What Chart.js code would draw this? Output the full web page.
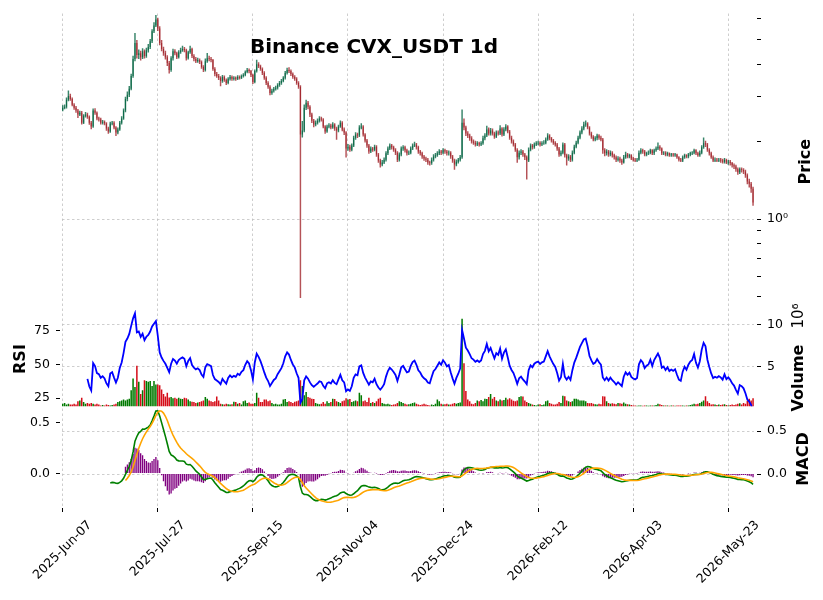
<!DOCTYPE html>
<html><head><meta charset="utf-8">
<script src="https://cdn.jsdelivr.net/npm/chart.js@4.4.1/dist/chart.umd.min.js"></script>
<style>html,body{margin:0;padding:0;background:#fff;}canvas{display:block;}</style>
</head><body>
<canvas id="c" width="823" height="600"></canvas>
<script>
const chartTitle = 'Binance CVX_USDT 1d';
const tickIdx = [0,50,100,150,200,250,300,350];
const tickLabels = ['2025-Jun-07','2025-Jul-27','2025-Sep-15','2025-Nov-04','2025-Dec-24','2026-Feb-12','2026-Apr-03','2026-May-23'];

const opens = [2.66,2.71,2.73,2.91,3.01,2.93,2.78,2.71,2.64,2.55,
2.59,2.37,2.52,2.55,2.50,2.37,2.29,2.64,2.59,2.46,
2.44,2.37,2.39,2.35,2.25,2.19,2.35,2.37,2.27,2.17,
2.23,2.37,2.46,2.64,2.93,3.04,3.21,3.60,4.19,4.83,
4.34,4.41,4.26,4.49,4.30,4.53,4.66,4.91,5.37,5.66,
5.97,5.51,4.83,4.58,4.41,4.26,4.04,3.80,4.22,4.49,
4.41,4.26,4.45,4.53,4.58,4.53,4.22,4.45,4.58,4.30,
4.19,4.11,4.15,4.08,3.90,3.80,4.11,4.22,4.19,4.15,
3.83,3.66,3.60,3.54,3.44,3.57,3.47,3.38,3.51,3.57,
3.51,3.54,3.51,3.57,3.54,3.60,3.63,3.73,3.80,3.76,
3.63,3.41,3.76,4.00,3.93,3.83,3.70,3.54,3.38,3.27,
3.09,3.15,3.21,3.24,3.32,3.38,3.44,3.54,3.70,3.80,
3.76,3.66,3.57,3.51,3.38,3.27,2.13,2.21,2.71,2.83,
2.73,2.55,2.41,2.33,2.37,2.41,2.46,2.44,2.29,2.19,
2.29,2.31,2.27,2.33,2.25,2.21,2.29,2.37,2.23,2.17,
1.88,1.91,1.86,1.93,2.07,2.13,2.11,2.27,2.29,2.13,
2.02,1.93,1.83,1.88,1.86,1.91,1.78,1.69,1.63,1.66,
1.70,1.80,1.88,1.93,1.90,1.86,1.81,1.70,1.78,1.88,
1.90,1.85,1.80,1.81,1.88,1.93,1.95,1.90,1.83,1.80,
1.75,1.72,1.70,1.66,1.65,1.70,1.75,1.77,1.80,1.83,
1.81,1.85,1.83,1.80,1.81,1.75,1.69,1.63,1.67,1.70,
1.74,2.37,2.27,2.15,2.11,2.06,2.00,1.98,1.95,1.97,
1.95,1.97,2.06,2.11,2.23,2.15,2.21,2.15,2.09,2.17,
2.15,2.25,2.13,2.23,2.29,2.19,2.07,2.00,1.95,1.86,
1.74,1.81,1.83,1.78,1.74,1.69,1.86,1.93,1.90,1.95,
1.97,1.98,1.95,1.97,1.98,2.04,2.11,2.06,2.02,1.98,
1.95,1.88,1.78,1.81,1.95,1.77,1.72,1.75,1.70,1.81,
1.91,1.98,2.07,2.17,2.25,2.33,2.35,2.27,2.15,2.09,
2.04,2.06,2.11,2.07,2.04,1.85,1.80,1.83,1.78,1.81,
1.77,1.74,1.70,1.72,1.69,1.66,1.74,1.78,1.75,1.77,
1.72,1.70,1.69,1.70,1.81,1.85,1.83,1.78,1.80,1.81,
1.85,1.80,1.85,1.88,1.91,1.88,1.80,1.81,1.78,1.80,
1.77,1.78,1.77,1.78,1.74,1.70,1.69,1.74,1.77,1.75,
1.78,1.80,1.81,1.85,1.80,1.77,1.81,1.90,1.97,1.95,
1.86,1.80,1.74,1.69,1.70,1.69,1.70,1.69,1.67,1.70,
1.66,1.67,1.65,1.62,1.60,1.56,1.52,1.56,1.55,1.53,
1.48,1.40,1.37,1.31];

const highs = [2.76,2.78,2.96,3.15,3.06,2.96,2.81,2.74,2.67,2.63,
2.62,2.55,2.60,2.58,2.52,2.40,2.68,2.69,2.61,2.49,
2.47,2.42,2.41,2.37,2.28,2.38,2.40,2.39,2.29,2.26,
2.40,2.50,2.68,2.98,3.12,3.28,3.66,4.30,5.27,4.95,
4.55,4.50,4.60,4.55,4.62,4.78,5.00,5.45,5.80,6.19,
6.05,5.60,4.95,4.66,4.50,4.32,4.10,4.28,4.58,4.56,
4.46,4.52,4.62,4.70,4.65,4.58,4.50,4.70,4.62,4.36,
4.25,4.22,4.20,4.12,3.95,4.20,4.41,4.30,4.25,4.18,
3.88,3.72,3.65,3.58,3.62,3.60,3.51,3.55,3.62,3.60,
3.58,3.57,3.61,3.60,3.64,3.68,3.77,3.85,3.84,3.79,
3.66,3.80,4.15,4.06,3.97,3.87,3.74,3.58,3.42,3.30,
3.20,3.25,3.29,3.36,3.43,3.49,3.58,3.75,3.86,3.88,
3.80,3.70,3.61,3.55,3.42,3.30,2.40,2.78,2.90,2.87,
2.76,2.58,2.44,2.41,2.45,2.50,2.49,2.46,2.31,2.32,
2.35,2.34,2.37,2.35,2.28,2.32,2.41,2.39,2.26,2.19,
1.95,1.94,1.96,2.10,2.17,2.16,2.31,2.35,2.31,2.15,
2.04,1.95,1.91,1.90,1.94,1.93,1.80,1.71,1.69,1.73,
1.83,1.91,1.96,1.95,1.92,1.88,1.83,1.81,1.91,1.93,
1.92,1.87,1.84,1.91,1.96,1.99,1.97,1.92,1.85,1.82,
1.77,1.74,1.72,1.68,1.73,1.78,1.80,1.83,1.86,1.85,
1.88,1.87,1.85,1.84,1.83,1.77,1.71,1.70,1.72,1.77,
2.66,2.45,2.30,2.19,2.14,2.09,2.03,2.01,2.00,1.99,
2.00,2.10,2.15,2.30,2.26,2.25,2.24,2.18,2.20,2.20,
2.31,2.27,2.27,2.33,2.31,2.21,2.10,2.03,1.97,1.88,
1.84,1.86,1.85,1.80,1.76,1.89,1.96,1.95,1.98,2.00,
2.01,2.00,2.00,2.02,2.07,2.15,2.13,2.08,2.04,2.00,
1.97,1.90,1.84,1.98,1.97,1.79,1.78,1.77,1.84,1.94,
2.01,2.10,2.20,2.29,2.38,2.41,2.37,2.29,2.18,2.11,
2.09,2.14,2.13,2.10,2.06,1.88,1.86,1.85,1.84,1.83,
1.79,1.76,1.75,1.74,1.71,1.77,1.82,1.80,1.79,1.78,
1.74,1.72,1.72,1.84,1.88,1.87,1.85,1.82,1.84,1.87,
1.86,1.87,1.91,1.98,1.93,1.89,1.83,1.83,1.82,1.81,
1.80,1.80,1.80,1.79,1.75,1.72,1.76,1.79,1.78,1.80,
1.82,1.83,1.87,1.86,1.82,1.84,1.93,2.07,2.01,1.97,
1.88,1.82,1.76,1.73,1.72,1.72,1.72,1.71,1.72,1.71,
1.69,1.69,1.66,1.64,1.62,1.58,1.58,1.58,1.57,1.55,
1.50,1.43,1.39,1.33];

const lows = [2.63,2.68,2.70,2.88,2.89,2.75,2.67,2.60,2.48,2.52,
2.34,2.35,2.49,2.46,2.33,2.24,2.27,2.55,2.43,2.40,
2.34,2.34,2.32,2.21,2.15,2.17,2.32,2.24,2.11,2.14,
2.21,2.34,2.44,2.61,2.88,2.99,3.18,3.55,4.12,4.22,
4.20,4.15,4.20,4.22,4.25,4.45,4.60,4.85,5.30,5.60,
5.40,4.75,4.50,4.33,4.18,3.95,3.69,3.75,4.15,4.35,
4.20,4.22,4.40,4.48,4.46,4.15,4.18,4.40,4.24,4.12,
4.05,4.06,4.02,3.85,3.74,3.76,4.06,4.12,4.08,3.78,
3.60,3.55,3.48,3.29,3.40,3.43,3.33,3.35,3.47,3.46,
3.47,3.46,3.48,3.50,3.51,3.56,3.60,3.70,3.70,3.58,
3.36,3.38,3.72,3.88,3.78,3.64,3.49,3.33,3.22,3.04,
3.05,3.11,3.17,3.20,3.28,3.34,3.41,3.50,3.66,3.71,
3.61,3.52,3.46,3.34,3.22,0.495,2.08,2.18,2.66,2.68,
2.50,2.37,2.28,2.30,2.34,2.38,2.40,2.26,2.15,2.17,
2.26,2.24,2.25,2.21,2.04,2.18,2.27,2.20,2.13,1.74,
1.85,1.83,1.84,1.91,2.04,2.07,2.09,2.24,2.10,1.99,
1.90,1.80,1.81,1.83,1.84,1.75,1.66,1.59,1.61,1.64,
1.68,1.78,1.86,1.87,1.83,1.78,1.67,1.68,1.76,1.85,
1.82,1.77,1.78,1.79,1.86,1.91,1.87,1.80,1.77,1.72,
1.69,1.67,1.63,1.62,1.63,1.68,1.73,1.75,1.78,1.78,
1.79,1.80,1.77,1.77,1.72,1.66,1.56,1.61,1.65,1.68,
1.72,2.22,2.11,2.07,2.02,1.97,1.95,1.92,1.93,1.92,
1.93,1.95,2.03,2.09,2.12,2.12,2.12,2.06,2.07,2.12,
2.13,2.10,2.11,2.20,2.16,2.04,1.97,1.92,1.83,1.66,
1.71,1.78,1.75,1.70,1.43,1.67,1.84,1.87,1.88,1.93,
1.94,1.92,1.93,1.95,1.96,2.02,2.03,1.99,1.95,1.92,
1.85,1.75,1.76,1.79,1.74,1.62,1.69,1.67,1.68,1.79,
1.89,1.96,2.05,2.14,2.22,2.29,2.24,2.12,2.06,2.01,
2.01,2.03,2.04,2.01,1.80,1.76,1.77,1.75,1.76,1.74,
1.71,1.67,1.68,1.66,1.63,1.65,1.72,1.73,1.73,1.70,
1.68,1.67,1.67,1.69,1.79,1.80,1.76,1.76,1.78,1.79,
1.78,1.78,1.83,1.86,1.85,1.78,1.78,1.76,1.76,1.75,
1.75,1.75,1.75,1.72,1.68,1.67,1.67,1.72,1.73,1.73,
1.76,1.78,1.79,1.78,1.75,1.75,1.79,1.88,1.91,1.83,
1.77,1.72,1.67,1.67,1.67,1.67,1.66,1.65,1.65,1.64,
1.63,1.62,1.59,1.57,1.53,1.49,1.50,1.52,1.50,1.45,
1.37,1.33,1.27,1.13];

const closes = [2.71,2.73,2.91,3.01,2.93,2.78,2.71,2.64,2.55,2.59,
2.37,2.52,2.55,2.50,2.37,2.29,2.64,2.59,2.46,2.44,
2.37,2.39,2.35,2.25,2.19,2.35,2.37,2.27,2.17,2.23,
2.37,2.46,2.64,2.93,3.04,3.21,3.60,4.19,4.83,4.34,
4.41,4.26,4.49,4.30,4.53,4.66,4.91,5.37,5.66,5.97,
5.51,4.83,4.58,4.41,4.26,4.04,3.80,4.22,4.49,4.41,
4.26,4.45,4.53,4.58,4.53,4.22,4.45,4.58,4.30,4.19,
4.11,4.15,4.08,3.90,3.80,4.11,4.22,4.19,4.15,3.83,
3.66,3.60,3.54,3.44,3.57,3.47,3.38,3.51,3.57,3.51,
3.54,3.51,3.57,3.54,3.60,3.63,3.73,3.80,3.76,3.63,
3.41,3.76,4.00,3.93,3.83,3.70,3.54,3.38,3.27,3.09,
3.15,3.21,3.24,3.32,3.38,3.44,3.54,3.70,3.80,3.76,
3.66,3.57,3.51,3.38,3.27,2.13,2.21,2.71,2.83,2.73,
2.55,2.41,2.33,2.37,2.41,2.46,2.44,2.29,2.19,2.29,
2.31,2.27,2.33,2.25,2.21,2.29,2.37,2.23,2.17,1.88,
1.91,1.86,1.93,2.07,2.13,2.11,2.27,2.29,2.13,2.02,
1.93,1.83,1.88,1.86,1.91,1.78,1.69,1.63,1.66,1.70,
1.80,1.88,1.93,1.90,1.86,1.81,1.70,1.78,1.88,1.90,
1.85,1.80,1.81,1.88,1.93,1.95,1.90,1.83,1.80,1.75,
1.72,1.70,1.66,1.65,1.70,1.75,1.77,1.80,1.83,1.81,
1.85,1.83,1.80,1.81,1.75,1.69,1.63,1.67,1.70,1.74,
2.37,2.27,2.15,2.11,2.06,2.00,1.98,1.95,1.97,1.95,
1.97,2.06,2.11,2.23,2.15,2.21,2.15,2.09,2.17,2.15,
2.25,2.13,2.23,2.29,2.19,2.07,2.00,1.95,1.86,1.74,
1.81,1.83,1.78,1.74,1.69,1.86,1.93,1.90,1.95,1.97,
1.98,1.95,1.97,1.98,2.04,2.11,2.06,2.02,1.98,1.95,
1.88,1.78,1.81,1.95,1.77,1.72,1.75,1.70,1.81,1.91,
1.98,2.07,2.17,2.25,2.33,2.35,2.27,2.15,2.09,2.04,
2.06,2.11,2.07,2.04,1.85,1.80,1.83,1.78,1.81,1.77,
1.74,1.70,1.72,1.69,1.66,1.74,1.78,1.75,1.77,1.72,
1.70,1.69,1.70,1.81,1.85,1.83,1.78,1.80,1.81,1.85,
1.80,1.85,1.88,1.91,1.88,1.80,1.81,1.78,1.80,1.77,
1.78,1.77,1.78,1.74,1.70,1.69,1.74,1.77,1.75,1.78,
1.80,1.81,1.85,1.80,1.77,1.81,1.90,1.97,1.95,1.86,
1.80,1.74,1.69,1.70,1.69,1.70,1.69,1.67,1.70,1.66,
1.67,1.65,1.62,1.60,1.56,1.52,1.56,1.55,1.53,1.48,
1.40,1.37,1.31,1.16];

// volume in millions
const volumes = [0.6,0.7,0.5,0.6,0.5,0.5,0.6,0.5,0.9,1.0,
1.3,0.8,0.6,0.7,0.6,0.7,0.6,0.5,0.6,0.5,
0.4,0.45,0.4,0.5,0.45,0.4,0.45,0.5,0.6,0.8,
0.9,1.0,1.1,1.0,1.1,1.2,2.2,3.6,2.6,5.1,
3.2,1.75,2.2,3.4,3.3,3.2,3.3,2.7,3.3,2.9,
2.9,2.8,2.3,1.75,1.45,1.9,1.35,1.4,1.25,1.3,
1.2,1.3,1.2,1.15,1.3,1.25,1.1,0.9,0.85,0.8,
0.7,0.75,0.8,0.9,1.0,1.4,1.2,1.0,0.9,0.8,
0.9,1.45,1.0,0.6,0.55,0.5,0.6,0.55,0.5,0.55,
0.85,0.8,0.6,0.7,0.5,0.9,1.0,0.7,0.75,0.6,
0.6,0.7,1.9,1.3,0.8,0.8,1.1,1.1,0.9,1.0,
0.7,0.55,0.6,0.5,0.5,0.6,1.1,1.15,0.8,0.9,
0.8,0.7,0.85,0.9,1.0,3.4,2.7,1.6,2.0,1.4,
1.3,1.2,1.15,0.7,0.6,0.55,0.6,0.8,0.6,0.9,
0.7,0.8,1.2,1.15,0.9,0.8,0.7,0.9,1.0,1.25,
1.1,1.15,0.8,0.9,1.0,0.9,1.9,1.6,0.9,1.0,
0.8,1.3,0.7,0.8,0.7,0.9,1.2,1.3,0.7,0.6,
0.55,0.6,0.5,0.45,0.5,0.55,0.7,0.9,0.8,0.7,
0.6,0.5,0.55,0.6,0.7,0.75,0.6,0.5,0.45,0.5,
0.6,0.5,0.45,0.4,0.5,0.45,0.6,1.1,0.9,0.6,
0.5,0.55,0.6,0.5,0.5,0.6,0.7,0.6,0.7,0.75,
10.7,5.4,2.1,1.1,0.9,0.6,0.55,0.7,1.0,0.9,
1.05,0.9,1.2,1.15,1.4,1.75,1.2,1.4,1.0,0.9,
1.1,1.0,1.05,1.3,1.1,1.25,1.1,0.95,0.9,1.0,
1.4,1.5,1.45,1.0,0.8,0.7,0.6,0.5,0.45,0.4,
0.5,0.55,0.45,0.5,0.9,1.0,0.7,0.6,0.5,0.5,
0.6,0.8,0.7,1.55,1.5,1.0,0.9,0.8,0.9,1.2,
1.2,1.1,1.0,1.0,1.0,0.9,0.7,0.65,0.7,0.6,
0.55,0.5,0.6,0.55,1.5,1.45,0.9,0.7,0.6,0.65,
0.6,0.55,0.7,0.65,0.6,0.75,0.6,0.55,0.5,0.45,
0.4,0.38,0.36,0.4,0.38,0.36,0.4,0.38,0.35,0.4,
0.38,0.4,0.45,0.6,0.55,0.45,0.4,0.38,0.4,0.36,
0.38,0.4,0.36,0.38,0.4,0.38,0.4,0.36,0.38,0.4,
0.45,0.5,0.6,0.55,0.6,0.7,0.85,1.0,1.5,0.9,
0.7,0.5,0.55,0.5,0.45,0.5,0.45,0.5,0.55,0.45,
0.4,0.45,0.5,0.45,0.5,0.6,0.65,0.5,0.7,0.6,
0.95,1.2,1.0,1.25];

const priceTicks = [0.5,0.6,0.7,0.8,0.9,1,2,3,4,5,6];
const volTicks = [5,10];
const rsiTicks = [25,50,75];
const macdTicks = [0,0.5];

// ---- indicators computed from the closes (RSI 14, MACD 12/26/9) ----
function ewm(src, alpha, minP) {
  const out = new Array(src.length).fill(null);
  let prev = null, n = 0;
  for (let i = 0; i < src.length; i++) {
    const v = src[i];
    if (v === null) continue;
    n++;
    prev = prev === null ? v : alpha * v + (1 - alpha) * prev;
    if (n >= minP) out[i] = prev;
  }
  return out;
}
const ups = closes.map((c, i) => i === 0 ? 0 : Math.max(c - closes[i - 1], 0));
const dns = closes.map((c, i) => i === 0 ? 0 : Math.max(closes[i - 1] - c, 0));
const eu = ewm(ups, 1 / 14, 14), ed = ewm(dns, 1 / 14, 14);
const rsi = eu.map((u, i) => u === null ? null : (ed[i] === 0 ? 100 : 100 * u / (u + ed[i])));
const emaFast = ewm(closes, 2 / 13, 12), emaSlow = ewm(closes, 2 / 27, 26);
const macd = closes.map((_, i) => (emaFast[i] === null || emaSlow[i] === null) ? null : emaFast[i] - emaSlow[i]);
const signal = ewm(macd, 2 / 10, 9);
const hist = macd.map((m, i) => (m === null || signal[i] === null) ? null : m - signal[i]);

const pts = arr => arr.map((v, i) => ({x: i, y: v})).filter(p => p.y !== null);
const isUp = closes.map((c, i) => c >= opens[i]);
const candleUp = 'rgba(0,99,64,0.78)', candleDn = 'rgba(160,33,40,0.78)';
const volUp = '#007a00', volDn = '#d50d18';

const GRID = '#c2c2c2';
const DASH = [2.5, 2.5];
const FONT = {family: 'DejaVu Sans', size: 12.5};
const setTicks = vals => s => { s.ticks = vals.map(v => ({value: v})); };

const rightAxis = (weight, min, max, ticksArr, cb, gridColor, type) => ({
  type: type || 'linear', position: 'right', stack: 'R', stackWeight: weight,
  min, max, beginAtZero: false,
  afterBuildTicks: setTicks(ticksArr),
  afterFit: s => { s.width = 69; },
  border: {display: false, dash: DASH},
  grid: {color: gridColor, lineWidth: 0.8, drawTicks: true, tickLength: 7, tickColor: '#000', tickWidth: 1, tickBorderDash: [0, 3, 4, 100]},
  ticks: {font: FONT, color: '#000', padding: 6, autoSkip: false, maxRotation: 0, callback: cb}
});
const leftAxis = (weight, min, max, ticksArr, cb) => ({
  type: 'linear', position: 'left', stack: 'L', stackWeight: weight,
  min, max, beginAtZero: false,
  afterBuildTicks: setTicks(ticksArr),
  afterFit: s => { s.width = 62; },
  border: {display: false},
  grid: {display: true, drawOnChartArea: false, drawTicks: true, tickLength: 6, tickColor: '#000', tickWidth: 1, tickBorderDash: [4, 100]},
  ticks: {font: FONT, color: '#000', padding: 6, autoSkip: false, maxRotation: 0, callback: cb}
});

const textPlugin = {
  id: 'mpfTexts',
  afterDraw(chart) {
    const ctx = chart.ctx, xs = chart.scales.x;
    ctx.save();
    ctx.fillStyle = '#000';
    ctx.font = 'bold 20px "DejaVu Sans"';
    ctx.textAlign = 'center'; ctx.textBaseline = 'alphabetic';
    ctx.fillText(chartTitle, 374, 53);
    ctx.font = '12.5px "DejaVu Sans"';
    tickIdx.forEach((v, k) => {
      const txt = tickLabels[k];
      const w = ctx.measureText(txt).width;
      const bh = (w + 14.5) * Math.SQRT1_2;
      const cx = xs.getPixelForValue(v);
      const cy = xs.top + 10 + bh / 2;
      ctx.save(); ctx.translate(cx, cy); ctx.rotate(-Math.PI / 4);
      ctx.textAlign = 'center'; ctx.textBaseline = 'middle';
      ctx.fillText(txt, 0, 0); ctx.restore();
    });
    const vText = (txt, font, x, y) => {
      ctx.save(); ctx.font = font; ctx.translate(x, y); ctx.rotate(-Math.PI / 2);
      ctx.textAlign = 'center'; ctx.textBaseline = 'alphabetic'; ctx.fillText(txt, 0, 0); ctx.restore();
    };
    const sP = chart.scales.yPrice, sR = chart.scales.yRsi;
    vText('Price', 'bold 16px "DejaVu Sans"', 810, (sP.top + sP.bottom) / 2);
    vText('Volume', 'bold 16px "DejaVu Sans"', 803, 378);
    vText('10\u2076', '15px "DejaVu Sans"', 803, 316);
    vText('MACD', 'bold 16px "DejaVu Sans"', 808, 459);
    vText('RSI', 'bold 16px "DejaVu Sans"', 25, (sR.top + sR.bottom) / 2 + 1);
    ctx.restore();
  }
};

new Chart(document.getElementById('c'), {
  type: 'line',
  data: {
    datasets: [
      {type: 'line', label: 'Signal', data: pts(signal), yAxisID: 'yMacdL', xAxisID: 'x',
       borderColor: '#ffa500', borderWidth: 1.6, pointRadius: 0, tension: 0, order: 0},
      {type: 'line', label: 'MACD', data: pts(macd), yAxisID: 'yMacdR', xAxisID: 'x',
       borderColor: '#008000', borderWidth: 1.6, pointRadius: 0, tension: 0, order: 1},
      {type: 'line', label: 'RSI', data: pts(rsi), yAxisID: 'yRsi', xAxisID: 'x',
       borderColor: '#0000ff', borderWidth: 1.8, pointRadius: 0, tension: 0, order: 0},
      {type: 'bar', label: 'Histogram', data: pts(hist), yAxisID: 'yMacdL', xAxisID: 'x',
       backgroundColor: '#800080', barPercentage: 0.7, categoryPercentage: 1, grouped: false, order: 3},
      {type: 'bar', label: 'Volume', data: pts(volumes), yAxisID: 'yVol', xAxisID: 'x',
       backgroundColor: isUp.map(u => u ? volUp : volDn), barPercentage: 0.8, categoryPercentage: 1, grouped: false, order: 4},
      {type: 'bar', label: 'Body', data: opens.map((o, i) => ({x: i, y: [o, closes[i]]})), yAxisID: 'yPrice', xAxisID: 'x',
       backgroundColor: isUp.map(u => u ? candleUp : candleDn), barPercentage: 0.6, categoryPercentage: 1, grouped: false, order: 5},
      {type: 'bar', label: 'Wick', data: lows.map((l, i) => ({x: i, y: [l, highs[i]]})), yAxisID: 'yPrice', xAxisID: 'x',
       backgroundColor: isUp.map(u => u ? candleUp : candleDn), barThickness: 0.8, grouped: false, order: 6}
    ]
  },
  options: {
    responsive: false, animation: false, devicePixelRatio: 1, events: [],
    layout: {padding: {top: 10, left: 0, right: 0, bottom: 0}},
    plugins: {legend: {display: false}, tooltip: {enabled: false}, title: {display: false}},
    scales: {
      x: {type: 'linear', position: 'bottom', min: -0.37, max: 363.5, offset: false,
          afterBuildTicks: setTicks(tickIdx), afterFit: s => { s.height = 92; },
          border: {display: false, dash: DASH},
          grid: {offset: false, color: GRID, lineWidth: 0.8, drawTicks: true, tickLength: 4, tickColor: '#000', tickWidth: 1},
          ticks: {display: false}},
      yPrice: rightAxis(298.5, 0.4432, 6.297, priceTicks, v => v === 1 ? '10\u2070' : '',
          c => (c.tick && c.tick.value === 1) ? GRID : 'rgba(0,0,0,0)', 'logarithmic'),
      yVol: rightAxis(97, 0.307, 11.745, volTicks, v => String(v), GRID),
      yMacdR: rightAxis(102.5, -0.393, 0.791, macdTicks, v => v.toFixed(1), GRID),
      yMacdL: leftAxis(102.5, -0.340, 0.665, macdTicks, v => v.toFixed(1)),
      yRsi: leftAxis(97, 19, 90.3, rsiTicks, v => String(v)),
      yPriceL: {type: 'linear', position: 'left', stack: 'L', stackWeight: 298.5, min: 0, max: 1,
          afterFit: s => { s.width = 62; }, border: {display: false},
          grid: {display: false}, ticks: {display: false}}
    }
  },
  plugins: [textPlugin]
});
</script>
</body></html>
